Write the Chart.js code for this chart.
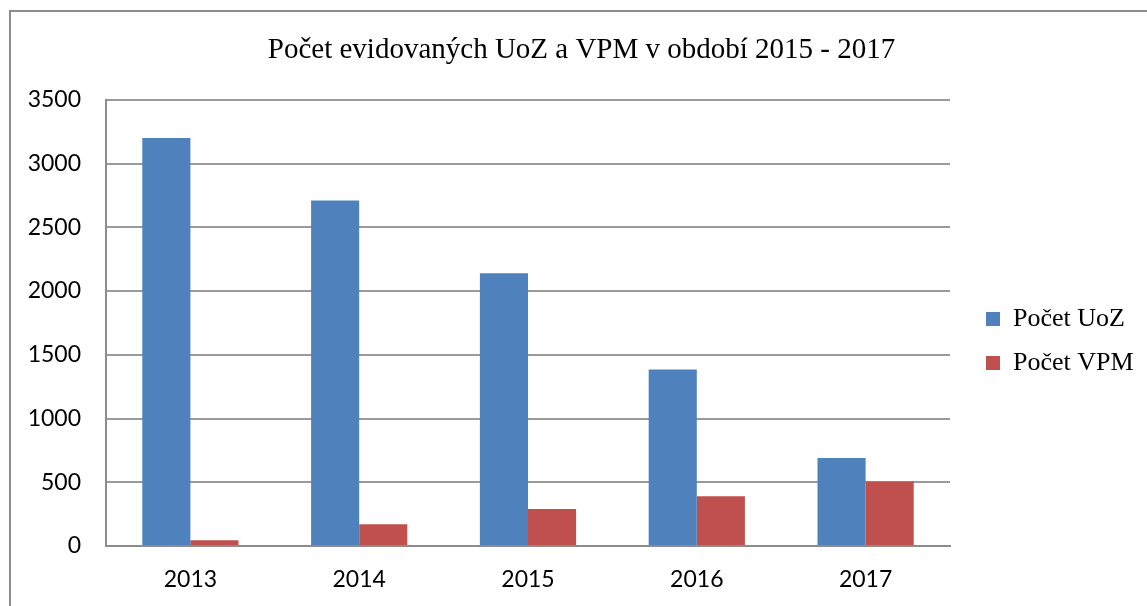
<!DOCTYPE html>
<html>
<head>
<meta charset="utf-8">
<script src="https://cdn.jsdelivr.net/npm/chart.js@4.4.1/dist/chart.umd.min.js"></script>
<style>
  html, body { margin: 0; padding: 0; background: #ffffff; overflow: hidden; }
  #wrap { position: relative; width: 1147px; height: 606px; }
  #frame { position: absolute; left: 9px; top: 10px; width: 1200px; height: 700px;
           border: 2px solid #8c8c8c; box-sizing: border-box; }
  canvas { position: absolute; left: 0; top: 0; }
</style>
</head>
<body>
<div id="wrap">
  <div id="frame"></div>
  <canvas id="c" width="1147" height="606"></canvas>
</div>
<script>
const chartTitle = 'Počet evidovaných UoZ a VPM v období 2015 - 2017';
const categories = ['2013', '2014', '2015', '2016', '2017'];
const seriesNames = ['Počet UoZ', 'Počet VPM'];
const uozValues = [3200, 2710, 2140, 1385, 690];
const vpmValues = [45, 170, 290, 390, 505];
const yMin = 0;
const yMax = 3500;
const yStep = 500;

const LEGEND_W = 197;

const legendPlace = {
  id: 'legendPlace',
  beforeLayout(chart) {
    const lg = chart.legend;
    if (lg && !lg.__fixed) {
      const fit = lg.fit.bind(lg);
      lg.fit = function () { fit(); this.width = LEGEND_W; };
      lg.__fixed = true;
    }
  },
  afterLayout(chart) {
    const lg = chart.legend;
    if (!lg) return;
    lg.left += 18; lg.right += 18;
    lg.top += 18; lg.bottom += 18;
  }
};

new Chart(document.getElementById('c'), {
  type: 'bar',
  data: {
    labels: categories,
    datasets: [
      { label: seriesNames[0], data: uozValues, backgroundColor: '#4F81BD',
        categoryPercentage: 0.57, barPercentage: 1.0 },
      { label: seriesNames[1], data: vpmValues, backgroundColor: '#C0504D',
        categoryPercentage: 0.57, barPercentage: 1.0 }
    ]
  },
  options: {
    responsive: false,
    animation: false,
    layout: { padding: { left: 16, right: 0, top: 0, bottom: 0 } },
    plugins: {
      title: {
        display: true,
        text: chartTitle,
        color: '#000000',
        font: { family: '"Liberation Serif", "Times New Roman", serif', size: 29, weight: 'normal', lineHeight: 1.2 },
        padding: { top: 33, bottom: 32 }
      },
      legend: {
        display: true,
        position: 'right',
        fullSize: false,
        labels: {
          color: '#000000',
          font: { family: '"Liberation Serif", "Times New Roman", serif', size: 26 },
          boxWidth: 14,
          boxHeight: 14,
          padding: 18
        }
      },
      tooltip: { enabled: false }
    },
    scales: {
      x: {
        grid: { display: false, drawTicks: false },
        border: { display: true, color: '#8c8c8c', width: 2 },
        ticks: {
          color: '#000000',
          font: { family: 'Lato, "Open Sans", sans-serif', size: 23 },
          padding: 20,
          maxRotation: 0
        },
        afterFit(scale) { scale.height = 60; }
      },
      y: {
        min: yMin,
        max: yMax,
        grid: { color: '#9a9a9a', lineWidth: 2, drawTicks: false },
        border: { display: true, color: '#8c8c8c', width: 2 },
        ticks: {
          stepSize: yStep,
          color: '#000000',
          font: { family: 'Lato, "Open Sans", sans-serif', size: 23 },
          padding: 25,
          callback: (value) => String(value)
        },
        afterFit(scale) { scale.width = 90; }
      }
    }
  },
  plugins: [legendPlace]
});
</script>
</body>
</html>
